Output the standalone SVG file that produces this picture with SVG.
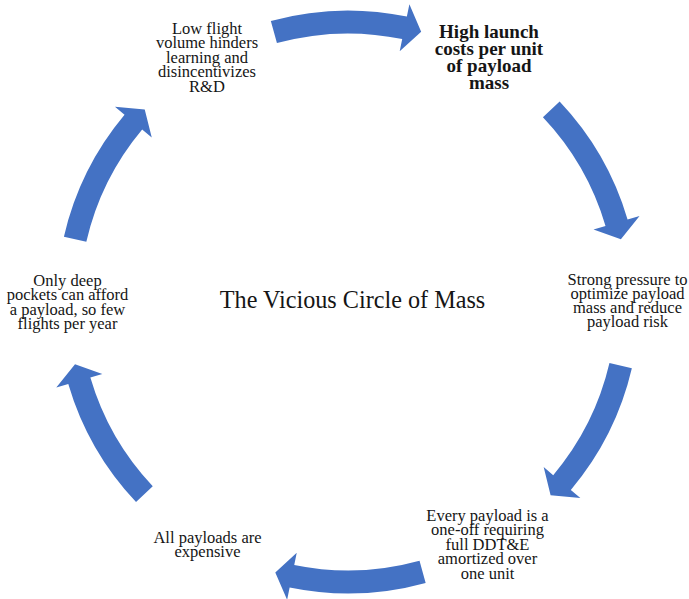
<svg xmlns="http://www.w3.org/2000/svg" xmlns:xlink="http://www.w3.org/1999/xlink" width="689" height="599" viewBox="0 0 689 599">
  <style>
    .lbl { font-family: "Liberation Serif", "Times New Roman", serif; font-size: 16.5px; fill: #151515; text-anchor: middle; }
    .bold { font-weight: bold; font-size: 19px; }
    .title { font-family: "Liberation Serif", "Times New Roman", serif; font-size: 24.2px; fill: #151515; text-anchor: middle; }
    .arrow { fill: #4472C4; }
  </style>
  <defs>
    <!-- curved block arrow on a 280px ring, spanning 30.5 degrees, pointing clockwise -->
    <path id="arc-arrow" class="arrow" d="M281.24,-76.67 A291.5,291.5 0 0 1 285.39,59.36 L297.63,61.91 L270.14,73.65 L250.64,52.13 L262.87,54.68 A268.5,268.5 0 0 0 259.05,-70.62 Z"/>
  </defs>
  <rect width="689" height="599" fill="#ffffff"/>

  <g id="connectors">
    <use xlink:href="#arc-arrow" transform="translate(348,302) rotate(-90.1)"/>
    <use xlink:href="#arc-arrow" transform="translate(348,302) rotate(-28.2)"/>
    <use xlink:href="#arc-arrow" transform="translate(348,302) rotate(28.4)"/>
    <use xlink:href="#arc-arrow" transform="translate(348,302) rotate(89.8)"/>
    <use xlink:href="#arc-arrow" transform="translate(348,302) rotate(151.9)"/>
    <use xlink:href="#arc-arrow" transform="translate(348,302) rotate(208.2)"/>
  </g>

  <g id="title">
    <text class="title" x="352.5" y="308">The Vicious Circle of Mass</text>
  </g>

  <g id="node-low-flight-volume">
    <text class="lbl" x="207" y="33.5">Low flight</text>
    <text class="lbl" x="207" y="48">volume hinders</text>
    <text class="lbl" x="207" y="62.5">learning and</text>
    <text class="lbl" x="207" y="77">disincentivizes</text>
    <text class="lbl" x="207" y="91.5">R&amp;D</text>
  </g>

  <g id="node-high-launch-costs">
    <text class="lbl bold" x="489" y="37.7">High launch</text>
    <text class="lbl bold" x="489" y="54.8">costs per unit</text>
    <text class="lbl bold" x="489" y="71.9">of payload</text>
    <text class="lbl bold" x="489" y="89">mass</text>
  </g>

  <g id="node-optimize-mass">
    <text class="lbl" x="627.5" y="284.5">Strong pressure to</text>
    <text class="lbl" x="627.5" y="298.5">optimize payload</text>
    <text class="lbl" x="627.5" y="312.5">mass and reduce</text>
    <text class="lbl" x="627.5" y="326.5">payload risk</text>
  </g>

  <g id="node-one-off-payload">
    <text class="lbl" x="487.5" y="520.5">Every payload is a</text>
    <text class="lbl" x="487.5" y="535">one-off requiring</text>
    <text class="lbl" x="487.5" y="549.5">full DDT&amp;E</text>
    <text class="lbl" x="487.5" y="564">amortized over</text>
    <text class="lbl" x="487.5" y="578.5">one unit</text>
  </g>

  <g id="node-payloads-expensive">
    <text class="lbl" x="207.5" y="543">All payloads are</text>
    <text class="lbl" x="207.5" y="557">expensive</text>
  </g>

  <g id="node-deep-pockets">
    <text class="lbl" x="67.5" y="286">Only deep</text>
    <text class="lbl" x="67.5" y="300.3">pockets can afford</text>
    <text class="lbl" x="67.5" y="314.6">a payload, so few</text>
    <text class="lbl" x="67.5" y="329">flights per year</text>
  </g>
</svg>
